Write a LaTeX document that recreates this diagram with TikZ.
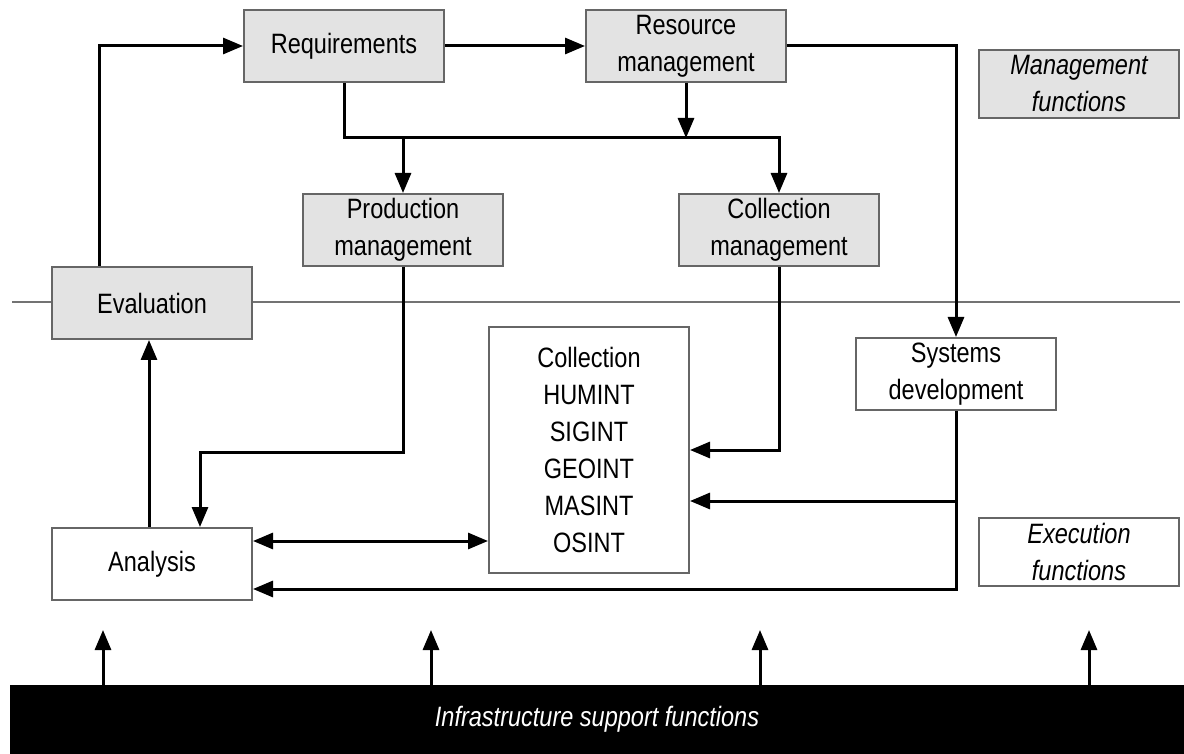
\documentclass[tikz,border=0pt]{standalone}
\usepackage{fontspec}
\setmainfont{Liberation Sans}[FakeStretch=0.84]
\usetikzlibrary{arrows.meta, positioning}

\begin{document}
\begin{tikzpicture}[
	x=0.5pt, y=-0.5pt,
	every node/.style={font=\fontsize{14}{18.5}\selectfont},
	mgmtbox/.style={rectangle, draw=black!60, line width=1pt, fill=black!11, minimum width=100pt, minimum height=36pt, align=center, inner sep=2pt},
	execbox/.style={mgmtbox, fill=white},
	keytext/.style={font=\fontsize{14}{18.5}\selectfont\itshape, minimum height=34pt},
	flow/.style={line width=1.5pt, -{Triangle[length=10pt, width=8pt]}},
	twoway/.style={line width=1.5pt, {Triangle[length=10pt, width=8pt]}-{Triangle[length=10pt, width=8pt]}}
	]

\useasboundingbox (0,0) rectangle (1184,754);

% Divider between management and execution
\draw[black!55, line width=0.8pt] (12,302) -- (1180,302);

% Management functions
\node [mgmtbox] (requirements) at (344,46) {Requirements};
\node [mgmtbox] (resource) at (686,46) {Resource\\management};
\node [mgmtbox] (prodmgmt) at (403,230) {Production\\management};
\node [mgmtbox] (collmgmt) at (779,230) {Collection\\management};
\node [mgmtbox] (evaluation) at (152,303) {Evaluation};
\node [mgmtbox, keytext] (mgmtkey) at (1079,84) {Management\\functions};

% Execution functions
\node [execbox, minimum height=122.5pt] (collection) at (589,450) {Collection\\HUMINT\\SIGINT\\GEOINT\\MASINT\\OSINT};
\node [execbox] (sysdev) at (956,374) {Systems\\development};
\node [execbox] (analysis) at (152,564) {Analysis};
\node [execbox, keytext] (execkey) at (1079,552) {Execution\\functions};

% Infrastructure
\node [rectangle, fill=black, text=white, font=\fontsize{14}{18.5}\selectfont\itshape, minimum width=587pt, minimum height=34.5pt, inner sep=0] (infra) at (597,719.5) {Infrastructure support functions};

% Flows between management boxes
\coordinate (split) at (686,138);
\coordinate (prodbend) at (200,452);
\coordinate (sysbranch) at (956,501);

\draw[flow] ([xshift=-26.5pt]evaluation.north) |- (requirements.west);
\draw[flow] (requirements) -- (resource);
\draw[flow] (resource.east) -| (sysdev.north);
\draw[flow] (resource) -- (split);
\draw[flow] (requirements.south) |- (split) -| (collmgmt.north);
\draw[flow] (prodmgmt.north |- split) -- (prodmgmt.north);

% Flows down to execution
\draw[flow] (prodmgmt.south) |- (prodbend) -- ([xshift=24pt]analysis.north);
\draw[flow] (collmgmt.south) |- (collection.east);
\draw[flow] (sysdev.south) |- ([yshift=-12.5pt]analysis.east);
\draw[flow] (sysbranch) -- (sysbranch -| collection.east);
\draw[twoway] ([yshift=11.5pt]analysis.east) -- ([yshift=11.5pt]analysis.east -| collection.west);
\draw[flow] ([xshift=-1.5pt]analysis.north) -- ([xshift=-1.5pt]evaluation.south);

% Support arrows
\foreach \x [count=\i] in {103,431,760,1089} {
	\coordinate (up\i) at (\x,630);
	\draw[flow] (up\i |- infra.north) -- (up\i);
}

\end{tikzpicture}
\end{document}
